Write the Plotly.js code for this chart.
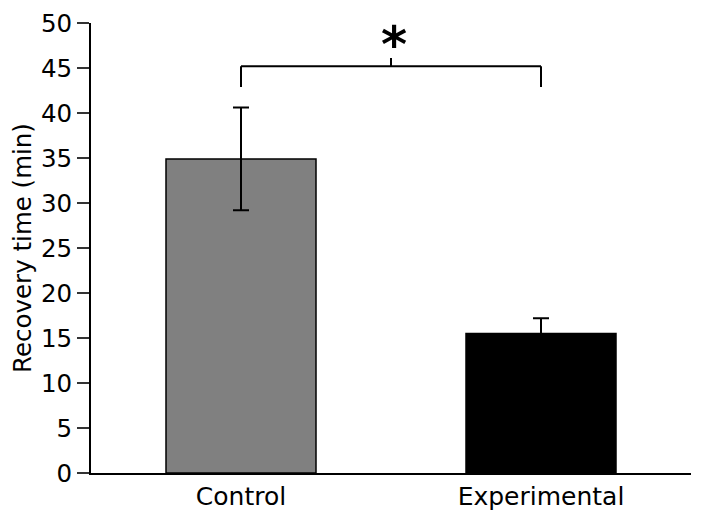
<!DOCTYPE html>
<html>
<head>
<meta charset="utf-8">
<script src="https://cdn.plot.ly/plotly-3.0.1.min.js"></script>
<style>html,body{margin:0;padding:0;background:#fff;}#chart{width:702px;height:518px;}</style>
</head>
<body>
<div id="chart"></div>
<script>
// Data
const categories = ["Control", "Experimental"];
const meanValues = [34.9, 15.5];
const errorValues = [5.7, 1.7];
const barColors = ["#808080", "#000000"];
const yTickValues = [0, 5, 10, 15, 20, 25, 30, 35, 40, 45, 50];
const yTitle = "Recovery time (min)";
const sigLabel = "*";

// significance bracket levels (data units)
const bracketTop = 45.2;
const bracketDrop = 42.9;
const bracketTick = 46.1;
const sigLabelY = 47.6;

const bar = {
  type: "bar",
  x: categories,
  y: meanValues,
  width: 0.5,
  marker: { color: barColors, line: { color: "#000", width: 1.5 } },
  error_y: { type: "data", array: errorValues, visible: true, color: "#000", thickness: 2, width: 8 },
  hoverinfo: "skip",
  showlegend: false
};

const i0 = 0, i1 = categories.length - 1, mid = (i0 + i1) / 2;
const lineStyle = { color: "#000", width: 2 };
const shapes = [
  { type: "line", xref: "x", yref: "y", x0: i0, x1: i1, y0: bracketTop, y1: bracketTop, line: lineStyle },
  { type: "line", xref: "x", yref: "y", x0: i0, x1: i0, y0: bracketDrop, y1: bracketTop, line: lineStyle },
  { type: "line", xref: "x", yref: "y", x0: i1, x1: i1, y0: bracketDrop, y1: bracketTop, line: lineStyle },
  { type: "line", xref: "x", yref: "y", x0: mid, x1: mid, y0: bracketTop, y1: bracketTick, line: lineStyle }
];

const layout = {
  width: 702, height: 518,
  margin: { l: 91, r: 11, t: 23, b: 45 },
  paper_bgcolor: "#fff", plot_bgcolor: "#fff",
  font: { family: "DejaVu Sans", size: 25, color: "#000" },
  showlegend: false,
  xaxis: {
    type: "category",
    range: [-0.5, 1.5],
    showline: true, linecolor: "#000", linewidth: 2,
    showgrid: false, zeroline: false,
    ticks: "",
    tickfont: { family: "DejaVu Sans", size: 25, color: "#000" }
  },
  yaxis: {
    range: [0, 50],
    tickvals: yTickValues,
    ticktext: yTickValues.map(String),
    showline: true, linecolor: "#000", linewidth: 2,
    showgrid: false, zeroline: false,
    ticks: "outside", ticklen: 12, tickwidth: 1.5, tickcolor: "#333",
    tickfont: { family: "DejaVu Sans", size: 24.5, color: "#000" },
    title: { text: yTitle, font: { family: "DejaVu Sans", size: 24.5, color: "#000" } }
  },
  shapes: shapes,
  annotations: [
    { xref: "x", yref: "y", x: mid, y: sigLabelY, xshift: 3, text: "<b>" + sigLabel + "</b>", showarrow: false,
      font: { family: "DejaVu Sans", size: 50, color: "#000" }, xanchor: "center", yanchor: "middle" }
  ]
};

Plotly.newPlot("chart", [bar], layout, { staticPlot: true, displayModeBar: false });
</script>
</body>
</html>
